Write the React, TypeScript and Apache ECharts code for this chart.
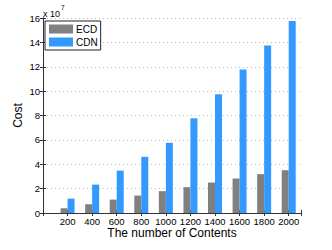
import React, { useEffect, useRef } from "react";
import * as echarts from "echarts";

const categories = [200, 400, 600, 800, 1000, 1200, 1400, 1600, 1800, 2000];
const ecdValues = [0.39, 0.72, 1.1, 1.43, 1.79, 2.12, 2.5, 2.83, 3.19, 3.51];
const cdnValues = [1.18, 2.33, 3.48, 4.61, 5.76, 7.77, 9.74, 11.77, 13.74, 15.75];
const seriesNames = ["ECD", "CDN"];
const yTicks = { min: 0, max: 16, interval: 2 };

const FONT = "Liberation Sans, Arial, Helvetica, sans-serif";
const AXIS = "#333333";

export default function App() {
  const ref = useRef<HTMLDivElement>(null);
  useEffect(() => {
    if (!ref.current) return;
    const chart = echarts.init(ref.current, undefined, { renderer: "svg" });
    const tick = { show: true, inside: true, length: 3, lineStyle: { color: AXIS } };
    const xBase = {
      type: "value",
      min: 0,
      max: 2100,
      interval: 200,
      splitLine: { show: false },
      axisLine: { show: true, lineStyle: { color: AXIS, width: 1 } },
      axisTick: tick,
    };
    const yBase = {
      type: "value",
      min: yTicks.min,
      max: yTicks.max,
      interval: yTicks.interval,
      axisLine: { show: true, lineStyle: { color: AXIS, width: 1 } },
      axisTick: tick,
    };
    chart.setOption({
      animation: false,
      textStyle: { fontFamily: FONT },
      grid: { left: 43, right: 31, top: 18, bottom: 37, containLabel: false },
      legend: {
        orient: "vertical",
        left: 45,
        top: 21,
        data: seriesNames,
        icon: "rect",
        itemWidth: 24,
        itemHeight: 9,
        itemGap: 3,
        padding: [3, 3, 3, 4],
        borderColor: "#222",
        borderWidth: 1,
        backgroundColor: "#fff",
        textStyle: { fontSize: 10, color: "#000", fontFamily: FONT, lineHeight: 9, padding: [0, 0, 0, -2] },
      },
      xAxis: [
        {
          ...xBase,
          position: "bottom",
          name: "The number of Contents",
          nameLocation: "middle",
          nameGap: 14,
          nameMoveOverlap: false,
          nameTextStyle: { fontSize: 12, color: "#000", fontFamily: FONT },
          axisLabel: {
            show: true,
            fontSize: 9.5,
            color: "#000",
            margin: 3,
            fontFamily: FONT,
            formatter: (v: number) => (categories.indexOf(v) >= 0 ? String(v) : ""),
          },
        },
        { ...xBase, position: "top", axisLabel: { show: false } },
      ],
      yAxis: [
        {
          ...yBase,
          position: "left",
          name: "Cost",
          nameLocation: "middle",
          nameGap: 19,
          nameMoveOverlap: false,
          nameTextStyle: { fontSize: 12, color: "#000", fontFamily: FONT },
          splitLine: { show: true, lineStyle: { color: "#bbbbbb", type: [1, 3], width: 1 } },
          axisLabel: { show: true, fontSize: 9.5, color: "#000", margin: 3, fontFamily: FONT },
        },
        { ...yBase, position: "right", splitLine: { show: false }, axisLabel: { show: false } },
      ],
      graphic: [
        {
          type: "text",
          left: 43,
          top: 4,
          style: {
            text: "{a|x 10}{b|7}",
            rich: {
              a: { fontSize: 9, fontFamily: FONT, fill: "#000", verticalAlign: "bottom", lineHeight: 14 },
              b: { fontSize: 6.5, fontFamily: FONT, fill: "#000", verticalAlign: "top", lineHeight: 14, padding: [0, 0, 6, 1] },
            },
          },
        },
      ],
      series: [
        {
          name: seriesNames[0],
          type: "bar",
          xAxisIndex: 0,
          yAxisIndex: 0,
          barWidth: 7,
          barGap: "0%",
          itemStyle: { color: "#808080" },
          data: categories.map((c, i) => [c, ecdValues[i]]),
        },
        {
          name: seriesNames[1],
          type: "bar",
          xAxisIndex: 0,
          yAxisIndex: 0,
          barWidth: 7,
          barGap: "0%",
          itemStyle: { color: "#3399ff" },
          data: categories.map((c, i) => [c, cdnValues[i]]),
        },
      ],
    });
    return () => chart.dispose();
  }, []);
  return <div ref={ref} style={{ position: "absolute", left: 0, top: 0, width: 332, height: 250 }} />;
}
